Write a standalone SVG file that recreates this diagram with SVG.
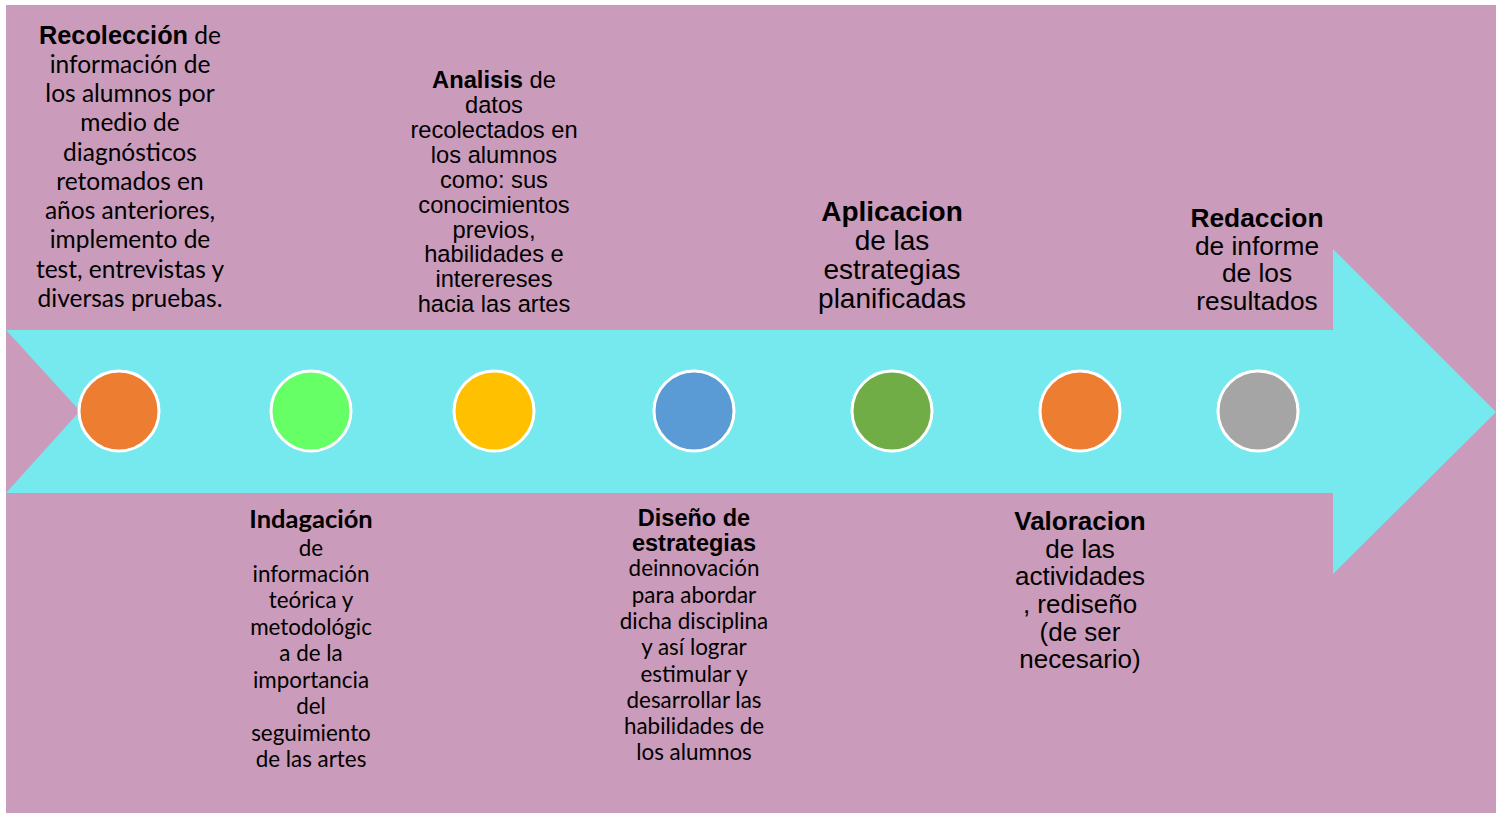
<svg xmlns="http://www.w3.org/2000/svg" width="1501" height="813" viewBox="0 0 1501 813">
<style>
.a{font-family:"Liberation Sans",Arial,sans-serif;fill:#000;text-anchor:middle}
.c{font-family:Lato,"Liberation Sans",sans-serif;fill:#000;text-anchor:middle}
.b{font-weight:bold}
.dot{stroke:#fff;stroke-width:3}
</style>
<rect x="0" y="0" width="1501" height="813" fill="#fff"/>
<rect x="6" y="5" width="1490" height="808" fill="#CA9BBA"/>
<g id="connectors">
<polygon points="6,330 1333,330 1333,249 1496,412 1333,574 1333,493 6,493 80,411" fill="#76E9EF"/>
</g>
<g id="n1">
<circle class="dot" cx="119" cy="411" r="40" fill="#ED7D31"/>
<text class="c" font-size="24.5" x="130"><tspan x="130" y="44"><tspan class="a b" font-size="25.3">Recolección</tspan> de</tspan><tspan x="130" y="73">información de</tspan><tspan x="130" y="102">los alumnos por</tspan><tspan x="130" y="131">medio de</tspan><tspan x="130" y="161">diagnósticos</tspan><tspan x="130" y="190">retomados en</tspan><tspan x="130" y="219">años anteriores,</tspan><tspan x="130" y="248">implemento de</tspan><tspan x="130" y="278">test, entrevistas y</tspan><tspan x="130" y="307">diversas pruebas.</tspan></text>
</g>
<g id="n2">
<circle class="dot" cx="311" cy="411" r="40" fill="#66FF66"/>
<text class="c" font-size="22.4"><tspan class="b" font-size="25.5" x="311" y="528">Indagación</tspan><tspan x="311" y="556">de</tspan><tspan x="311" y="582">información</tspan><tspan x="311" y="608">teórica y</tspan><tspan x="311" y="635">metodológic</tspan><tspan x="311" y="661">a de la</tspan><tspan x="311" y="688">importancia</tspan><tspan x="311" y="714">del</tspan><tspan x="311" y="741">seguimiento</tspan><tspan x="311" y="767">de las artes</tspan></text>
</g>
<g id="n3">
<circle class="dot" cx="494" cy="411" r="40" fill="#FFC000"/>
<text class="a" font-size="23.7"><tspan x="494" y="88"><tspan class="b">Analisis</tspan> de</tspan><tspan x="494" y="113">datos</tspan><tspan x="494" y="138">recolectados en</tspan><tspan x="494" y="163">los alumnos</tspan><tspan x="494" y="188">como: sus</tspan><tspan x="494" y="213">conocimientos</tspan><tspan x="494" y="238">previos,</tspan><tspan x="494" y="262">habilidades e</tspan><tspan x="494" y="287">interereses</tspan><tspan x="494" y="312">hacia las artes</tspan></text>
</g>
<g id="n4">
<circle class="dot" cx="694" cy="411" r="40" fill="#5B9BD5"/>
<text class="a b" font-size="23.5"><tspan x="694" y="526">Diseño de</tspan><tspan x="694" y="551">estrategias</tspan></text>
<text class="c" font-size="22.4"><tspan x="694" y="576">deinnovación</tspan><tspan x="694" y="603">para abordar</tspan><tspan x="694" y="629">dicha disciplina</tspan><tspan x="694" y="655">y así lograr</tspan><tspan x="694" y="682">estimular y</tspan><tspan x="694" y="708">desarrollar las</tspan><tspan x="694" y="734">habilidades de</tspan><tspan x="694" y="760">los alumnos</tspan></text>
</g>
<g id="n5">
<circle class="dot" cx="892" cy="411" r="40" fill="#70AD47"/>
<text class="a" font-size="28"><tspan class="b" x="892" y="221">Aplicacion</tspan><tspan x="892" y="250">de las</tspan><tspan x="892" y="279">estrategias</tspan><tspan x="892" y="308">planificadas</tspan></text>
</g>
<g id="n6">
<circle class="dot" cx="1080" cy="411" r="40" fill="#ED7D31"/>
<text class="a" font-size="26"><tspan class="b" x="1080" y="530">Valoracion</tspan><tspan x="1080" y="558">de las</tspan><tspan x="1080" y="585">actividades</tspan><tspan x="1080" y="613">, rediseño</tspan><tspan x="1080" y="641">(de ser</tspan><tspan x="1080" y="668">necesario)</tspan></text>
</g>
<g id="n7">
<circle class="dot" cx="1258" cy="411" r="40" fill="#A5A5A5"/>
<text class="a" font-size="26.3"><tspan class="b" x="1257" y="227">Redaccion</tspan><tspan x="1257" y="255">de informe</tspan><tspan x="1257" y="282">de los</tspan><tspan x="1257" y="310">resultados</tspan></text>
</g>
</svg>
